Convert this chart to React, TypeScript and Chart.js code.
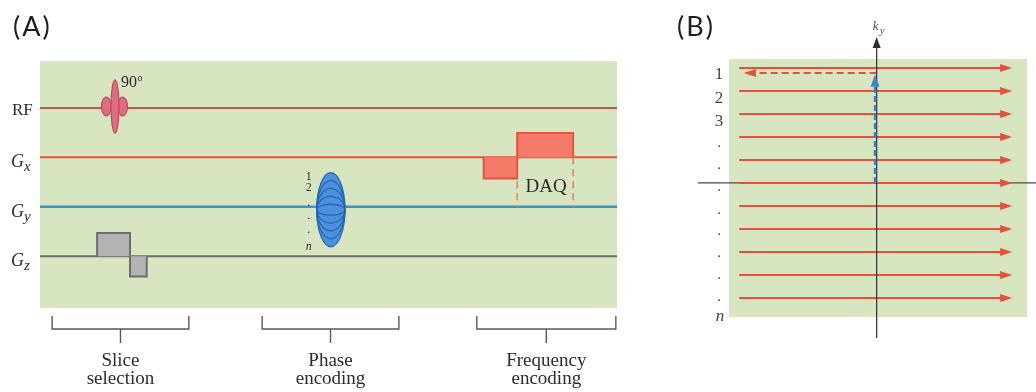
import { useEffect, useRef } from "react";
import { Chart, registerables } from "chart.js";

Chart.register(...registerables);

// ---------- (A) pulse sequence, time in ms ----------
const seqStart = 0;
const seqEnd = 10;
const rowNames = ["RF", "x", "y", "z"];
const rowLevels = [4, 3, 2, 1];

// RF excitation: side lobes then main lobe (centre time, half-width, peak)
const rfLobeTimes = [1.15, 1.43, 1.3];
const rfLobeHalfWidths = [0.085, 0.085, 0.068];
const rfLobePeaks = [0.19, 0.19, 0.54];
const rfLobeCentre = 0.03;

// Slice-select gradient with refocusing lobe (Gz)
const gzTimes = [0.99, 0.99, 1.56, 1.56, 1.85, 1.85];
const gzAmps = [0, 0.47, 0.47, -0.41, -0.41, 0];

// Readout gradient: dephase lobe then read lobe (Gx)
const gxTimes = [7.69, 7.69, 8.27, 8.27, 9.24, 9.24];
const gxAmps = [0, -0.43, -0.43, 0.49, 0.49, 0];

// Phase-encode table (Gy): outer step first
const gyTime = 5.04;
const gyHalfWidth = 0.245;
const gyStepPeaks = [0.75, 0.59, 0.43, 0.27, 0.11];
const gyCentre = -0.06;
const gyStepLabels = ["1", "2", ".", ".", ".", "n"];

// Acquisition window
const daqWindow = [8.27, 9.24];

// Bracketed sections under the sequence
const sectionLines = [
  ["Slice", "selection"],
  ["Phase", "encoding"],
  ["Frequency", "encoding"],
];
const sectionStarts = [0.21, 3.85, 7.57];
const sectionEnds = [2.58, 6.22, 9.98];

// ---------- (B) k-space traversal ----------
const kyLines = [5, 4, 3, 2, 1, 0, -1, -2, -3, -4, -5];
const kxStart = -1.015;
const kxEnd = 1.0;
const returnKy = 4.78;
const returnKxEnd = -0.98;
const phaseKx = -0.012;
const phaseKyEnd = 4.7;
const kyAxisRange = [-6.74, 6.35];
const kxAxisRange = [-1.32, 1.18];
const lineLabels = ["1", "2", "3", ".", ".", ".", ".", ".", ".", ".", ".", "n"];
const lineLabelKy = [4.78, 3.74, 2.74, 1.65, 0.7, -0.26, -1.26, -2.17, -3.13, -4.09, -5.04, -5.83];

// ---------- styles ----------
const GREEN = "#d7e6c0";
const RF_LINE = "#c35856";
const RF_FILL = "#de6e7e";
const RF_EDGE = "#bd4a62";
const GX_LINE = "#e9533e";
const GX_FILL = "#f47b67";
const GY_LINE = "#3d93c9";
const GY_FILL = "#4a92dc";
const GY_EDGE = "#2866b0";
const GZ_LINE = "#6d6d6d";
const GZ_FILL = "#b3b3b3";
const DAQ_DASH = "#ee8461";
const INK = "#2c2c2c";
const KRED = "#e8503c";
const KBLUE = "#3a86c4";
const SERIF = "'Liberation Serif', 'Times New Roman', serif";
const rowColors = [RF_LINE, GX_LINE, GY_LINE, GZ_LINE];

type Pt = { x: number; y: number };

function arrowHead(
  ctx: CanvasRenderingContext2D,
  tx: number,
  ty: number,
  dx: number,
  dy: number,
  len: number,
  half: number,
  color: string
) {
  const bx = tx - dx * len;
  const by = ty - dy * len;
  ctx.beginPath();
  ctx.moveTo(tx, ty);
  ctx.lineTo(bx - dy * half, by + dx * half);
  ctx.lineTo(bx + dy * half, by - dx * half);
  ctx.closePath();
  ctx.fillStyle = color;
  ctx.fill();
}

const sequencePlugin = {
  id: "sequenceDecor",
  beforeDraw(chart: any) {
    const { ctx, chartArea: a } = chart;
    ctx.save();
    ctx.fillStyle = GREEN;
    ctx.fillRect(a.left, a.top, a.right - a.left, a.bottom - a.top);
    ctx.restore();
  },
  afterDatasetsDraw(chart: any) {
    const { ctx } = chart;
    const xs = chart.scales.x;
    const ys = chart.scales.y;
    const px = (t: number) => xs.getPixelForValue(t);
    const py = (v: number) => ys.getPixelForValue(v);
    ctx.save();
    // RF pulse lobes
    const rfLevel = rowLevels[0] + rfLobeCentre;
    rfLobeTimes.forEach((t, i) => {
      const cx = px(t);
      const cy = py(rfLevel);
      const rx = px(t + rfLobeHalfWidths[i]) - cx;
      const ry = cy - py(rfLevel + rfLobePeaks[i]);
      ctx.beginPath();
      ctx.ellipse(cx, cy, rx, ry, 0, 0, Math.PI * 2);
      ctx.fillStyle = RF_FILL;
      ctx.fill();
      ctx.strokeStyle = RF_EDGE;
      ctx.lineWidth = 1.2;
      ctx.stroke();
    });
    // Phase-encode table
    const gyLevel = rowLevels[2] + gyCentre;
    const cx = px(gyTime);
    const cy = py(gyLevel);
    const rx = px(gyTime + gyHalfWidth) - cx;
    gyStepPeaks.forEach((p, i) => {
      const ry = cy - py(gyLevel + p);
      ctx.beginPath();
      ctx.ellipse(cx, cy, rx, ry, 0, 0, Math.PI * 2);
      if (i === 0) {
        ctx.fillStyle = GY_FILL;
        ctx.fill();
      }
      ctx.strokeStyle = GY_EDGE;
      ctx.lineWidth = 1.3;
      ctx.stroke();
    });
    ctx.restore();
  },
  afterDraw(chart: any) {
    const { ctx, chartArea: a } = chart;
    const xs = chart.scales.x;
    const ys = chart.scales.y;
    const px = (t: number) => xs.getPixelForValue(t);
    const py = (v: number) => ys.getPixelForValue(v);
    ctx.save();

    // Panel letter
    ctx.fillStyle = "#1e1e1e";
    ctx.font = "27px Lato, 'Open Sans', sans-serif";
    (ctx as any).letterSpacing = "2px";
    ctx.textAlign = "left";
    ctx.textBaseline = "alphabetic";
    ctx.fillText("(A)", 13, 36);
    (ctx as any).letterSpacing = "0px";

    // Channel names
    ctx.fillStyle = INK;
    rowNames.forEach((n, i) => {
      const y0 = py(rowLevels[i]);
      if (i === 0) {
        ctx.font = `17px ${SERIF}`;
        ctx.fillText(n, 12, y0 + 7);
      } else {
        ctx.font = `italic 18px ${SERIF}`;
        ctx.fillText("G", 11, y0 + 10);
        const gw = ctx.measureText("G").width;
        ctx.font = `italic 15px ${SERIF}`;
        ctx.fillText(n, 11 + gw, y0 + 14);
      }
    });

    // Flip angle
    const rfMain = rfLobeTimes[2];
    const fx = px(rfMain) + 6;
    const fy = py(rowLevels[0]) - 21;
    ctx.font = `16px ${SERIF}`;
    ctx.fillText("90", fx, fy);
    const nw = ctx.measureText("90").width;
    ctx.font = `10px ${SERIF}`;
    ctx.fillText("o", fx + nw + 0.5, fy - 6);

    // Phase-step indices
    ctx.textAlign = "center";
    const sx = px(gyTime) - 22;
    const gy0 = py(rowLevels[2]);
    const stepOffsets = [-27, -16, -1, 12, 26, 43];
    gyStepLabels.forEach((s, i) => {
      ctx.font = s === "n" ? `italic 12px ${SERIF}` : `12px ${SERIF}`;
      ctx.fillText(s, sx, gy0 + stepOffsets[i]);
    });

    // Acquisition label
    ctx.font = `19px ${SERIF}`;
    ctx.fillText("DAQ", (px(daqWindow[0]) + px(daqWindow[1])) / 2 + 1, py(rowLevels[1]) + 35);

    // Section brackets
    const top = a.bottom + 8;
    const mid = a.bottom + 21;
    const tick = a.bottom + 35;
    ctx.strokeStyle = "#5a5a5a";
    ctx.lineWidth = 1.4;
    sectionLines.forEach((lines, i) => {
      const x0 = px(sectionStarts[i]);
      const x1 = px(sectionEnds[i]);
      const xm = (x0 + x1) / 2;
      ctx.beginPath();
      ctx.moveTo(x0, top);
      ctx.lineTo(x0, mid);
      ctx.lineTo(x1, mid);
      ctx.lineTo(x1, top);
      ctx.moveTo(xm, mid);
      ctx.lineTo(xm, tick);
      ctx.stroke();
      ctx.fillStyle = INK;
      ctx.font = `19px ${SERIF}`;
      ctx.textAlign = "center";
      ctx.fillText(lines[0], xm, a.bottom + 58);
      ctx.fillText(lines[1], xm, a.bottom + 76);
    });
    ctx.restore();
  },
};

const kspacePlugin = {
  id: "kspaceDecor",
  beforeDraw(chart: any) {
    const { ctx, chartArea: a } = chart;
    ctx.save();
    ctx.fillStyle = GREEN;
    ctx.fillRect(a.left, a.top, a.right - a.left, a.bottom - a.top);
    ctx.restore();
  },
  afterDatasetsDraw(chart: any) {
    const { ctx } = chart;
    const xs = chart.scales.x;
    const ys = chart.scales.y;
    const px = (v: number) => xs.getPixelForValue(v);
    const py = (v: number) => ys.getPixelForValue(v);
    ctx.save();
    kyLines.forEach((ky) => arrowHead(ctx, px(kxEnd), py(ky), 1, 0, 12, 4, KRED));
    arrowHead(ctx, px(returnKxEnd), py(returnKy), -1, 0, 12, 4, KRED);
    arrowHead(ctx, px(phaseKx), py(phaseKyEnd), 0, -1, 12, 4.5, KBLUE);
    arrowHead(ctx, px(0), py(kyAxisRange[1]), 0, -1, 11, 4, "#2e2e2e");
    ctx.restore();
  },
  afterDraw(chart: any) {
    const { ctx } = chart;
    const xs = chart.scales.x;
    const ys = chart.scales.y;
    const px = (v: number) => xs.getPixelForValue(v);
    const py = (v: number) => ys.getPixelForValue(v);
    ctx.save();
    ctx.fillStyle = "#1e1e1e";
    ctx.font = "27px Lato, 'Open Sans', sans-serif";
    (ctx as any).letterSpacing = "2px";
    ctx.textAlign = "left";
    ctx.fillText("(B)", 17, 36);
    (ctx as any).letterSpacing = "0px";

    // ky axis name
    const ax = px(0);
    ctx.fillStyle = "#505050";
    ctx.font = `italic 13px ${SERIF}`;
    ctx.fillText("k", ax - 4, 30);
    ctx.font = `italic 11px ${SERIF}`;
    ctx.fillText("y", ax + 3, 34);

    // Line indices
    ctx.fillStyle = "#444";
    ctx.textAlign = "center";
    lineLabels.forEach((s, i) => {
      const y = py(lineLabelKy[i]);
      if (s === ".") {
        ctx.font = `15px ${SERIF}`;
        ctx.fillText(s, 59, y + 2);
      } else if (s === "n") {
        ctx.font = `italic 17px ${SERIF}`;
        ctx.fillText(s, 60, y + 4);
      } else {
        ctx.font = `17px ${SERIF}`;
        ctx.fillText(s, 59, y + 6);
      }
    });
    ctx.restore();
  },
};

const baseOptions = (pad: any, xr: number[], yr: number[]) => ({
  responsive: false,
  animation: false as const,
  events: [],
  layout: { padding: pad },
  plugins: {
    legend: { display: false },
    tooltip: { enabled: false },
    title: { display: false },
  },
  elements: { point: { radius: 0 }, line: { tension: 0 } },
  scales: {
    x: { type: "linear" as const, display: false, min: xr[0], max: xr[1] },
    y: { type: "linear" as const, display: false, min: yr[0], max: yr[1] },
  },
});

const pts = (xs: number[], ys: number[]): Pt[] => xs.map((x, i) => ({ x, y: ys[i] }));

export default function App() {
  const seqRef = useRef<HTMLCanvasElement>(null);
  const kRef = useRef<HTMLCanvasElement>(null);

  useEffect(() => {
    if (!seqRef.current || !kRef.current) return;

    const baselines = rowLevels.map((lvl, i) => ({
      label: rowNames[i],
      data: [
        { x: seqStart, y: lvl },
        { x: seqEnd, y: lvl },
      ],
      borderColor: rowColors[i],
      borderWidth: i === 2 ? 2.4 : 2,
      fill: false,
      order: 5,
    }));
    const gzLevel = rowLevels[3];
    const gxLevel = rowLevels[1];
    const seqChart = new Chart(seqRef.current, {
      type: "line",
      data: {
        datasets: [
          {
            label: "Gz lobes",
            data: pts(gzTimes, gzAmps.map((v) => gzLevel + v)),
            borderColor: GZ_LINE,
            backgroundColor: GZ_FILL,
            borderWidth: 2,
            fill: { value: gzLevel },
            order: 1,
          },
          {
            label: "Gx lobes",
            data: pts(gxTimes, gxAmps.map((v) => gxLevel + v)),
            borderColor: GX_LINE,
            backgroundColor: GX_FILL,
            borderWidth: 2,
            fill: { value: gxLevel },
            order: 1,
          },
          ...daqWindow.map((t) => ({
            label: "DAQ",
            data: [
              { x: t, y: gxLevel },
              { x: t, y: rowLevels[2] },
            ],
            borderColor: DAQ_DASH,
            borderWidth: 1.7,
            borderDash: [7, 5],
            fill: false,
            order: 2,
          })),
          ...baselines,
        ],
      },
      options: baseOptions({ left: 40, right: 43, top: 61, bottom: 84 }, [seqStart, seqEnd], [-0.05, 4.95]) as any,
      plugins: [sequencePlugin],
    });

    const kChart = new Chart(kRef.current, {
      type: "line",
      data: {
        datasets: [
          {
            label: "phase step",
            data: [
              { x: phaseKx, y: 0 },
              { x: phaseKx, y: phaseKyEnd - 0.3 },
            ],
            borderColor: KBLUE,
            borderWidth: 2.5,
            borderDash: [6, 3],
            fill: false,
            order: 0,
          },
          {
            label: "ky",
            data: [
              { x: 0, y: kyAxisRange[0] },
              { x: 0, y: kyAxisRange[1] - 0.3 },
            ],
            borderColor: "#3a3a3a",
            borderWidth: 1.3,
            fill: false,
            clip: false,
            order: 1,
          },
          {
            label: "rewind",
            data: [
              { x: 0, y: returnKy },
              { x: returnKxEnd + 0.06, y: returnKy },
            ],
            borderColor: KRED,
            borderWidth: 2,
            borderDash: [7, 4],
            fill: false,
            order: 2,
          },
          ...kyLines.map((ky) => ({
            label: `line ${ky}`,
            data: [
              { x: kxStart, y: ky },
              { x: kxEnd - 0.05, y: ky },
            ],
            borderColor: KRED,
            borderWidth: 2,
            fill: false,
            order: 3,
          })),
          {
            label: "kx",
            data: [
              { x: kxAxisRange[0], y: 0 },
              { x: kxAxisRange[1], y: 0 },
            ],
            borderColor: "#4a4a4a",
            borderWidth: 1.3,
            fill: false,
            clip: false,
            order: 4,
          },
        ],
      },
      options: baseOptions({ left: 69, right: 9, top: 59, bottom: 75 }, [-1.09, 1.11], [-5.83, 5.39]) as any,
      plugins: [kspacePlugin],
    });

    return () => {
      seqChart.destroy();
      kChart.destroy();
    };
  }, []);

  return (
    <div style={{ position: "absolute", left: 0, top: 0, width: 1036, height: 392, background: "#fff" }}>
      <canvas ref={seqRef} width={660} height={392} style={{ position: "absolute", left: 0, top: 0 }} />
      <canvas ref={kRef} width={376} height={392} style={{ position: "absolute", left: 660, top: 0 }} />
    </div>
  );
}
